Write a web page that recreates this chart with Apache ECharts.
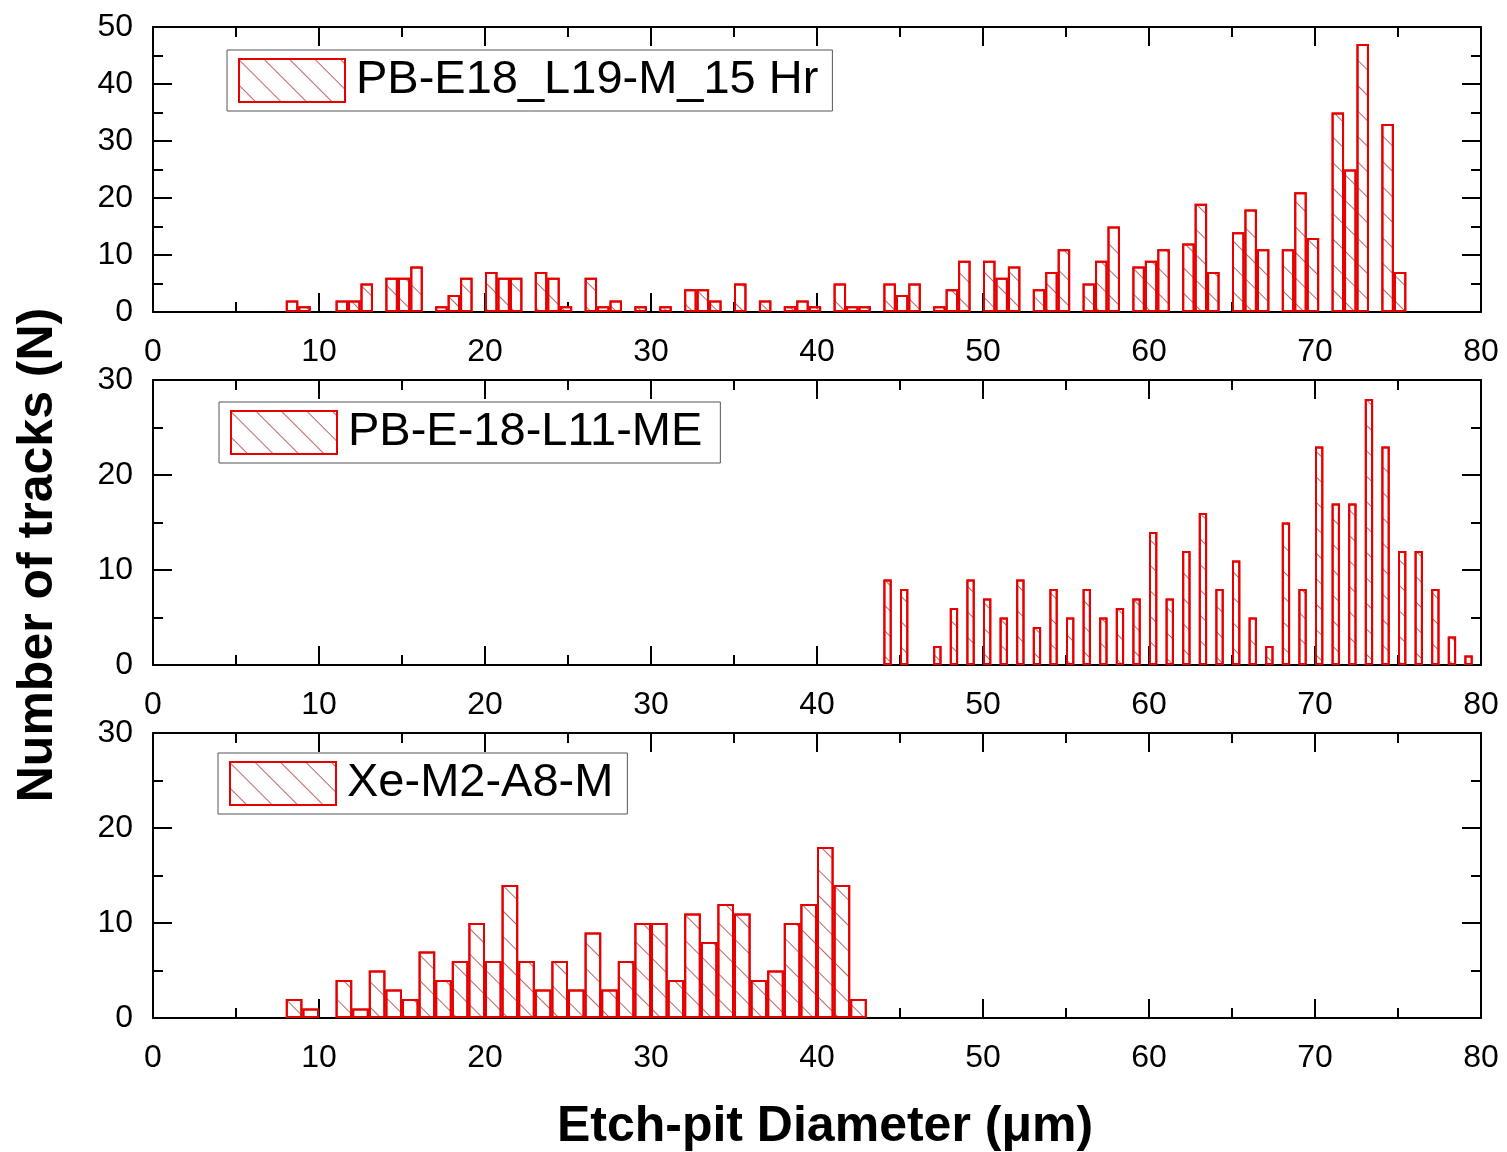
<!DOCTYPE html>
<html>
<head>
<meta charset="utf-8">
<script src="https://cdn.jsdelivr.net/npm/echarts@6/dist/echarts.min.js"></script>
<style>
html,body{margin:0;padding:0;background:#fff;}
#chart{width:1507px;height:1152px;}
</style>
</head>
<body>
<div id="chart"></div>
<script>
// ---------- data ----------
const seriesNames = ['PB-E18_L19-M_15 Hr', 'PB-E-18-L11-ME', 'Xe-M2-A8-M'];
const xTicks = [0, 10, 20, 30, 40, 50, 60, 70, 80];

// Panel 1: bin centres (µm) and counts
const bins1 = [8.375, 9.125, 11.375, 12.125, 12.875, 14.375, 15.125, 15.875, 17.375, 18.125,
  18.875, 20.375, 21.125, 21.875, 23.375, 24.125, 24.875, 26.375, 27.125, 27.875,
  29.375, 30.875, 32.375, 33.125, 33.875, 35.375, 36.875, 38.375, 39.125, 39.875,
  41.375, 42.125, 42.875, 44.375, 45.125, 45.875, 47.375, 48.125, 48.875, 50.375,
  51.125, 51.875, 53.375, 54.125, 54.875, 56.375, 57.125, 57.875, 59.375, 60.125,
  60.875, 62.375, 63.125, 63.875, 65.375, 66.125, 66.875, 68.375, 69.125, 69.875,
  71.375, 72.125, 72.875, 74.375, 75.125];
const counts1 = [2, 1, 2, 2, 5, 6, 6, 8, 1, 3,
  6, 7, 6, 6, 7, 6, 1, 6, 1, 2,
  1, 1, 4, 4, 2, 5, 2, 1, 2, 1,
  5, 1, 1, 5, 3, 5, 1, 4, 9, 9,
  6, 8, 4, 7, 11, 5, 9, 15, 8, 9,
  11, 12, 19, 7, 14, 18, 11, 11, 21, 13,
  35, 25, 47, 33, 7];

// Panel 2
const bins2 = [44.25, 45.25, 47.25, 48.25, 49.25, 50.25, 51.25, 52.25, 53.25, 54.25,
  55.25, 56.25, 57.25, 58.25, 59.25, 60.25, 61.25, 62.25, 63.25, 64.25,
  65.25, 66.25, 67.25, 68.25, 69.25, 70.25, 71.25, 72.25, 73.25, 74.25,
  75.25, 76.25, 77.25, 78.25, 79.25];
const counts2 = [9, 8, 2, 6, 9, 7, 5, 9, 4, 8,
  5, 8, 5, 6, 7, 14, 7, 12, 16, 8,
  11, 5, 2, 15, 8, 23, 17, 17, 28, 23,
  12, 12, 8, 3, 1];

// Panel 3
const bins3 = [8.5, 9.5, 11.5, 12.5, 13.5, 14.5, 15.5, 16.5, 17.5, 18.5,
  19.5, 20.5, 21.5, 22.5, 23.5, 24.5, 25.5, 26.5, 27.5, 28.5,
  29.5, 30.5, 31.5, 32.5, 33.5, 34.5, 35.5, 36.5, 37.5, 38.5,
  39.5, 40.5, 41.5, 42.5];
const counts3 = [2, 1, 4, 1, 5, 3, 2, 7, 4, 6,
  10, 6, 14, 6, 3, 6, 3, 9, 3, 6,
  10, 10, 4, 11, 8, 12, 11, 4, 5, 10,
  12, 18, 14, 2];

const yMax = [50, 30, 30];

// ---------- layout / style ----------
const FONT = '"Liberation Sans", Arial, sans-serif';
const W = 1507, GL = 153, GR = 26;
const pxPerUnit = (W - GL - GR) / (xTicks[xTicks.length - 1] - xTicks[0]);
const gridTops = [27, 380, 733];
const gridH = 285;
const barWidthUnits = [0.75, 0.5, 1.0];   // drawn width of each bar in axis units
const legendPos = [[227, 50], [219, 402], [218, 753]];
const allBins = [bins1, bins2, bins3];
const allCounts = [counts1, counts2, counts3];

const lineSt = { color: '#000', width: 2 };
function axisCommon(showLabel, margin) {
  return {
    axisLine: { show: true, onZero: false, lineStyle: lineSt },
    axisTick: { show: true, inside: true, length: 19, lineStyle: lineSt },
    minorTick: { show: true, splitNumber: 2, length: 10, lineStyle: lineSt },
    splitLine: { show: false },
    minorSplitLine: { show: false },
    axisLabel: { show: showLabel, margin: margin, fontSize: 32, color: '#000', fontFamily: FONT,
      showMinLabel: true, showMaxLabel: true }
  };
}

const grids = [], xAxes = [], yAxes = [], series = [], legends = [];
for (let i = 0; i < 3; i++) {
  grids.push({ left: GL, right: GR, top: gridTops[i], height: gridH, containLabel: false });
  xAxes.push(Object.assign({ type: 'value', gridIndex: i, min: xTicks[0], max: xTicks[xTicks.length - 1],
    interval: 10, position: 'bottom' }, axisCommon(true, 24)));
  xAxes.push(Object.assign({ type: 'value', gridIndex: i, min: xTicks[0], max: xTicks[xTicks.length - 1],
    interval: 10, position: 'top' }, axisCommon(false, 8)));
  yAxes.push(Object.assign({ type: 'value', gridIndex: i, min: 0, max: yMax[i], interval: 10, position: 'left' }, axisCommon(true, 20)));
  yAxes.push(Object.assign({ type: 'value', gridIndex: i, min: 0, max: yMax[i], interval: 10, position: 'right' }, axisCommon(false, 8)));
  series.push({
    type: 'bar',
    name: seriesNames[i],
    xAxisIndex: 2 * i,
    yAxisIndex: 2 * i,
    barWidth: barWidthUnits[i] * pxPerUnit,
    barGap: '0%',
    barCategoryGap: '0%',
    data: allBins[i].map((x, j) => [x, allCounts[i][j]]),
    itemStyle: {
      color: '#ffffff',
      borderColor: '#e60000',
      borderWidth: 2,
      decal: {
        symbol: 'rect',
        symbolSize: 1,
        color: 'rgba(165,50,50,0.75)',
        dashArrayX: [1, 0],
        dashArrayY: [1, 17],
        rotation: Math.PI / 4
      }
    },
    emphasis: { disabled: true },
    animation: false
  });
  legends.push({
    data: [seriesNames[i]],
    left: legendPos[i][0],
    top: legendPos[i][1],
    orient: 'horizontal',
    icon: 'rect',
    itemWidth: 106,
    itemHeight: 43,
    padding: [7, 14, 7, 11],
    borderColor: '#555',
    borderWidth: 1,
    backgroundColor: '#fff',
    selectedMode: false,
    textStyle: { fontSize: 47, color: '#000', fontFamily: FONT, padding: [0, 0, 0, 6] }
  });
}
legends[1].padding = [7, 18, 7, 11];

const chart = echarts.init(document.getElementById('chart'), null, { renderer: 'canvas' });
chart.setOption({
  backgroundColor: '#fff',
  animation: false,
  grid: grids,
  xAxis: xAxes,
  yAxis: yAxes,
  legend: legends,
  series: series,
  graphic: [
    {
      type: 'text',
      x: 38, y: 555,
      rotation: Math.PI / 2,
      style: {
        text: 'Number of tracks (N)',
        font: 'bold 50px "Liberation Sans", Arial, sans-serif',
        fill: '#000',
        align: 'center',
        verticalAlign: 'middle'
      }
    },
    {
      type: 'text',
      x: 825, y: 1127,
      style: {
        text: 'Etch-pit Diameter (μm)',
        font: 'bold 50px "Liberation Sans", Arial, sans-serif',
        fill: '#000',
        align: 'center',
        verticalAlign: 'middle'
      }
    }
  ]
});
</script>
</body>
</html>
